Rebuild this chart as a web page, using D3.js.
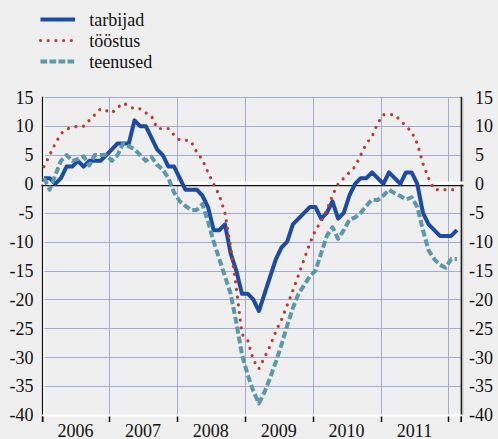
<!DOCTYPE html>
<html>
<head>
<meta charset="utf-8">
<script src="https://cdn.jsdelivr.net/npm/d3@7"></script>
<style>
  html, body { margin: 0; padding: 0; background: #efefef; }
  svg { display: block; }
</style>
</head>
<body>
<svg id="chart" width="498" height="439"></svg>
<script>
// Monthly confidence indicators, January 2006 – February 2012
const years = ["2006", "2007", "2008", "2009", "2010", "2011"];

const tarbijad = [
  1, 1, 0, 1, 3, 3, 4, 3, 4, 4, 4, 5,
  6, 7, 7, 7, 11, 10, 10, 8, 6, 5, 3, 3,
  1, -1, -1, -1, -2, -4, -8, -8, -7, -12, -15, -19,
  -19, -20, -22, -19, -16, -13, -11, -10, -7, -6, -5, -4,
  -4, -6, -5, -3, -6, -5, -2, 0, 1, 1, 2, 1,
  0, 2, 1, 0, 2, 2, 0, -5, -7, -8, -9, -9,
  -9, -8
];

const toostus = [
  3, 5, 7, 8.7, 9.5, 9.8, 10, 10, 11, 12, 13, 12.7,
  12.3, 13.2, 14, 13.5, 13, 13, 12.3, 11.8, 9.6, 9.6, 9.6, 8.5,
  7.6, 7.6, 7.4, 5.5, 4.2, 2, 0, -2, -5, -11, -18, -26,
  -27, -30.5, -32, -30, -28, -25.5, -23.5, -21, -18.5, -15.8, -13, -10.3,
  -8, -6.5, -4.5, -2, 0, 1, 2, 3, 5, 7, 8.2, 10.5,
  12, 12, 12, 11, 10, 9, 7, 3.5, 1, -1, -1, -1,
  -1, -1
];

const teenused = [
  1, -1, 1.5, 4, 5, 4, 4.3, 4.8, 3.2, 5, 5, 5,
  4, 5, 7, 6.5, 6, 5, 4, 4.7, 3.3, 2.5, 1, -1.5,
  -3, -3.8, -4.5, -4.5, -3.5, -6.5, -10, -13, -16, -19, -24, -29.5,
  -33, -35.8, -38, -36, -33.5, -30.8, -27.8, -24.5, -21.5, -19, -17.5, -16,
  -15, -12, -9, -7.5, -9.5, -8, -6.2, -5.8, -5, -3.8, -2.7, -2.8,
  -2, -1, -1.6, -2.1, -2.7, -2.3, -4, -8, -11.5, -13, -14, -14.5,
  -13, -13
];

const yTickValues = [15, 10, 5, 0, -5, -10, -15, -20, -25, -30, -35, -40];
const seriesLabels = ["tarbijad", "tööstus", "teenused"];

const FONT = "'Liberation Serif', 'Times New Roman', 'DejaVu Serif', serif";

// Layout
const frame = { left: 42, right: 461.5, top: 97.3, bottom: 415 };
const svg = d3.select("#chart")
  .attr("font-family", FONT)
  .attr("font-size", 18);

// Month index -> horizontal position; the frame runs a little past the last month
const x = d3.scaleLinear().domain([-0.35, 73.85]).range([frame.left, 461.7]);
const y = d3.scaleLinear().domain([-40, 15]).range([frame.bottom, frame.top]);

const gridColor = "#a3abdc";

function label(sel) {
  return sel.style("font-family", FONT).style("font-size", "18px").attr("fill", "#111");
}

// Horizontal gridlines
svg.append("g").selectAll("line")
  .data(yTickValues.filter(v => v !== 0 && v !== -40))
  .join("line")
  .attr("x1", frame.left).attr("x2", frame.right)
  .attr("y1", d => Math.round(y(d)) + 0.5).attr("y2", d => Math.round(y(d)) + 0.5)
  .attr("stroke", gridColor).attr("stroke-width", 1);

// Year boundaries (between December and January)
const boundaries = years.map((_, k) => x(11.5 + 12 * k));
svg.append("g").selectAll("line")
  .data(boundaries)
  .join("line")
  .attr("x1", d => Math.round(d) + 0.5).attr("x2", d => Math.round(d) + 0.5)
  .attr("y1", frame.top).attr("y2", frame.bottom)
  .attr("stroke", gridColor).attr("stroke-width", 1);

// Left axis: dark rule with a light edge on the inside
svg.append("line").attr("x1", 42.6).attr("x2", 42.6).attr("y1", frame.top - 0.5).attr("y2", 422)
  .attr("stroke", "#111").attr("stroke-width", 1.4);
svg.append("line").attr("x1", 44).attr("x2", 44).attr("y1", frame.top).attr("y2", frame.bottom)
  .attr("stroke", "#fff").attr("stroke-width", 1.4);

// Right axis with a soft shadow
svg.append("line").attr("x1", 461.3).attr("x2", 461.3).attr("y1", frame.top - 0.5).attr("y2", 422)
  .attr("stroke", "#111").attr("stroke-width", 1.3);
svg.append("line").attr("x1", 462.7).attr("x2", 462.7).attr("y1", frame.top).attr("y2", frame.bottom)
  .attr("stroke", "#b4b4b4").attr("stroke-width", 1.3);

// Bottom axis and its ticks
svg.append("line").attr("x1", frame.left).attr("x2", 462.5).attr("y1", 415.6).attr("y2", 415.6)
  .attr("stroke", "#fff").attr("stroke-width", 2);
const tickXs = [42.6, ...boundaries.map(d => Math.round(d) + 0.5), 461.3];
svg.append("g").selectAll("line")
  .data(tickXs)
  .join("line")
  .attr("x1", d => d).attr("x2", d => d)
  .attr("y1", 416.5).attr("y2", 422)
  .attr("stroke", "#111").attr("stroke-width", 1.5);

// Zero line: light band with a dark rule underneath
svg.append("line").attr("x1", 41.5).attr("x2", 463.5).attr("y1", y(0) - 0.9).attr("y2", y(0) - 0.9)
  .attr("stroke", "#fff").attr("stroke-width", 3);
svg.append("line").attr("x1", 41.5).attr("x2", 463.5).attr("y1", y(0) + 1.7).attr("y2", y(0) + 1.7)
  .attr("stroke", "#111").attr("stroke-width", 1.3);

// Y tick labels, left side (right-aligned)
svg.append("g").selectAll("text")
  .data(yTickValues)
  .join("text")
  .call(label)
  .attr("x", 33.5).attr("y", d => y(d)).attr("dy", "0.35em")
  .attr("text-anchor", "end")
  .text(d => d);

// Y tick labels, right side (digits aligned, minus sign hanging left)
const probe = svg.append("text").call(label).text("-");
const minusW = probe.node().getComputedTextLength();
probe.remove();
svg.append("g").selectAll("text")
  .data(yTickValues)
  .join("text")
  .call(label)
  .attr("x", d => d < 0 ? 475 - minusW : 475).attr("y", d => y(d)).attr("dy", "0.35em")
  .attr("text-anchor", "start")
  .text(d => d);

// Year labels centred between boundaries
const edges = [frame.left, ...boundaries];
svg.append("g").selectAll("text")
  .data(years)
  .join("text")
  .call(label)
  .attr("x", (d, i) => (edges[i] + edges[i + 1]) / 2)
  .attr("y", 436.5)
  .attr("text-anchor", "middle")
  .text(d => d);

// Series
const styles = [
  { data: tarbijad, color: "#1d4ba3", width: 4, dash: null, cap: "butt" },
  { data: toostus, color: "#bf3a2e", width: 3.2, dash: "0.01 7.7", cap: "round" },
  { data: teenused, color: "#5c98aa", width: 4, dash: "7 3", cap: "butt" }
];

const line = d3.line().x((d, i) => x(i)).y(d => y(d));

styles.forEach(s => {
  svg.append("path")
    .datum(s.data)
    .attr("d", line)
    .attr("fill", "none")
    .attr("stroke", s.color)
    .attr("stroke-width", s.width)
    .attr("stroke-linejoin", "round")
    .attr("stroke-linecap", s.cap)
    .attr("stroke-dasharray", s.dash);
});

// Legend
const legendRows = [25.6, 46.7, 67.7];
styles.forEach((s, i) => {
  svg.append("line")
    .attr("x1", 40.5).attr("x2", 75).attr("y1", legendRows[i] - 6.2).attr("y2", legendRows[i] - 6.2)
    .attr("stroke", s.color).attr("stroke-width", s.width)
    .attr("stroke-linecap", s.cap)
    .attr("stroke-dasharray", s.dash === "7 3" ? "6.7 2.3" : s.dash);
  svg.append("text")
    .call(label)
    .attr("x", 89.3).attr("y", legendRows[i])
    .text(seriesLabels[i]);
});
</script>
</body>
</html>
